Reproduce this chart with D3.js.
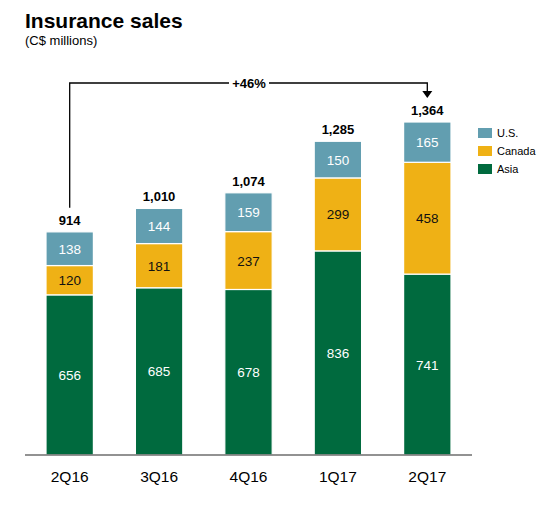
<!DOCTYPE html>
<html><head><meta charset="utf-8">
<script src="https://cdn.jsdelivr.net/npm/d3@7"></script>
<style>body{margin:0;background:#fff;font-family:"Liberation Sans",Arial,sans-serif;}</style>
</head><body>
<svg id="c" width="556" height="508"></svg>
<script>
const categories = ["2Q16","3Q16","4Q16","1Q17","2Q17"];
const asia   = [656,685,678,836,741];
const canada = [120,181,237,299,458];
const us     = [138,144,159,150,165];
const totals = [914,1010,1074,1285,1364];
const seriesNames = ["Asia","Canada","U.S."];
const growthLabel = "+46%";

const colors = {"Asia":"#006a3e","Canada":"#efb115","U.S.":"#629eb0"};
const textColors = {"Asia":"#fff","Canada":"#111","U.S.":"#fff"};

const svg = d3.select("#c");
const x = d3.scaleBand().domain(categories).range([25,472]).paddingInner(0.47).paddingOuter(0.235);
const y = d3.scaleLinear().domain([0,1364]).range([455,122]);

const rows = categories.map((c,i)=>({cat:c,"Asia":asia[i],"Canada":canada[i],"U.S.":us[i]}));
const stack = d3.stack().keys(seriesNames)(rows);

// title
svg.append("text").attr("x",25).attr("y",28).attr("font-size",21).attr("font-weight","bold").attr("fill","#000").text("Insurance sales");
svg.append("text").attr("x",25).attr("y",45).attr("font-size",13).attr("fill","#000").text("(C$ millions)");

const g = svg.append("g");
stack.forEach(s=>{
  const key = s.key;
  g.selectAll(null).data(s).join("rect")
    .attr("x",(d,i)=>x(categories[i]))
    .attr("width",x.bandwidth())
    .attr("y",d=>y(d[1]))
    .attr("height",d=>y(d[0])-y(d[1]))
    .attr("fill",colors[key])
    .attr("stroke","#fff").attr("stroke-width",1.2);
  g.selectAll(null).data(s).join("text")
    .attr("x",(d,i)=>x(categories[i])+x.bandwidth()/2)
    .attr("y",d=>(y(d[0])+y(d[1]))/2+5)
    .attr("text-anchor","middle").attr("font-size",13.5)
    .attr("fill",textColors[key])
    .text(d=>d[1]-d[0]);
});

// totals
svg.selectAll(null).data(totals).join("text")
  .attr("x",(d,i)=>x(categories[i])+x.bandwidth()/2)
  .attr("y",d=>y(d)-7)
  .attr("text-anchor","middle").attr("font-size",13).attr("font-weight","bold").attr("fill","#000")
  .text(d=>d3.format(",")(d));

// axis
svg.append("line").attr("x1",25).attr("x2",472).attr("y1",455).attr("y2",455).attr("stroke","#6e6e6e").attr("stroke-width",1.5);
svg.selectAll(null).data(categories).join("text")
  .attr("x",d=>x(d)+x.bandwidth()/2).attr("y",482)
  .attr("text-anchor","middle").attr("font-size",15.5).attr("fill","#000").text(d=>d);

// growth bracket
const x0 = x(categories[0])+x.bandwidth()/2, x1 = x(categories[4])+x.bandwidth()/2;
const yTop = 83;
svg.append("path").attr("d",`M${x0},${y(totals[0])-24}V${yTop}H${x1}V${y(totals[4])-30}`)
  .attr("fill","none").attr("stroke","#000").attr("stroke-width",1.3);
svg.append("path").attr("d",`M${x1-5},${y(totals[4])-31}L${x1+5},${y(totals[4])-31}L${x1},${y(totals[4])-24}Z`).attr("fill","#000");
const mid = 249;
svg.append("rect").attr("x",mid-20).attr("y",yTop-8).attr("width",40).attr("height",16).attr("fill","#fff");
svg.append("text").attr("x",mid).attr("y",yTop+4.5).attr("text-anchor","middle").attr("font-size",13).attr("font-weight","bold").attr("fill","#000").text(growthLabel);

// legend
const legendOrder = ["U.S.","Canada","Asia"];
const lg = svg.append("g");
legendOrder.forEach((k,i)=>{
  const yy = 128 + i*18;
  lg.append("rect").attr("x",478).attr("y",yy).attr("width",14).attr("height",10).attr("fill",colors[k]);
  lg.append("text").attr("x",497).attr("y",yy+9).attr("font-size",11).attr("fill","#000").text(k);
});
</script>
</body></html>
